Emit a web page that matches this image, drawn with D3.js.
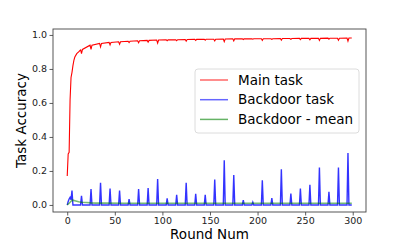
<!DOCTYPE html>
<html>
<head>
<meta charset="utf-8">
<script src="https://cdn.jsdelivr.net/npm/d3@7"></script>
<style>
  body { margin: 0; background: #fff; }
  svg { display: block; }
</style>
</head>
<body>
<svg id="chart" width="407" height="244"></svg>
<script>
// Main task accuracy, early rounds
const mainEarlyRounds = [0, 1, 2, 3, 4, 5, 6, 7, 8, 10, 12, 14];
const mainEarlyAcc = [0.17, 0.30, 0.31, 0.62, 0.75, 0.78, 0.82, 0.85, 0.87, 0.89, 0.90, 0.912];
// Main task: level around each dip, and dip depth (rounds 15, 25, ..., 295)
const dipRounds = d3.range(15, 300, 10);
const mainLevel = [0.915, 0.94, 0.95, 0.956, 0.96, 0.963, 0.966, 0.968, 0.97, 0.971,
  0.972, 0.973, 0.974, 0.975, 0.975, 0.976, 0.977, 0.977, 0.978, 0.978,
  0.978, 0.979, 0.979, 0.98, 0.98, 0.98, 0.981, 0.981, 0.982];
const mainDip = [0.025, 0.025, 0.02, 0.015, 0.015, 0.008, 0.012, 0.01, 0.018, 0.005,
  0.006, 0.01, 0.006, 0.006, 0.01, 0.015, 0.012, 0.004, 0.003, 0.01,
  0.004, 0.01, 0.005, 0.007, 0.008, 0.012, 0.006, 0.012, 0.018];
const mainLast = [299, 0.982];

// Backdoor task
const backEarlyRounds = [0, 1, 2, 3, 4];
const backEarlyAcc = [0.0, 0.02, 0.035, 0.045, 0.03];
const spikeRounds = d3.range(5, 300, 10);
const spikeHeights = [0.084, 0.053, 0.094, 0.13, 0.096, 0.084, 0.035, 0.094, 0.10, 0.153,
  0.039, 0.059, 0.13, 0.065, 0.059, 0.15, 0.263, 0.176, 0.029, 0.016,
  0.145, 0.041, 0.21, 0.067, 0.096, 0.118, 0.22, 0.078, 0.22, 0.306];

// Backdoor mean
const meanRounds = [0, 2, 4, 5, 6, 8, 10, 12, 15, 20, 25, 30, 40, 60, 100, 150, 200, 250, 299];
const meanAcc = [0.0, 0.01, 0.022, 0.027, 0.028, 0.025, 0.022, 0.019, 0.016, 0.014,
  0.012, 0.011, 0.011, 0.01, 0.01, 0.01, 0.01, 0.01, 0.01];

const yTicks = [0.0, 0.2, 0.4, 0.6, 0.8, 1.0];
const xTicks = [0, 50, 100, 150, 200, 250, 300];
const seriesNames = ["Main task", "Backdoor task", "Backdoor - mean"];
const seriesColors = ["#ff0000", "#0000ff", "#008000"];

const fontFamily = "DejaVu Sans, sans-serif";

// build point lists
const mainPts = mainEarlyRounds.map((r, i) => [r, mainEarlyAcc[i]]);
dipRounds.forEach((r, i) => {
  mainPts.push([r - 1, mainLevel[i]], [r, mainLevel[i] - mainDip[i]], [r + 1, mainLevel[i]]);
});
mainPts.push(mainLast);

const backPts = backEarlyRounds.map((r, i) => [r, backEarlyAcc[i]]);
spikeRounds.forEach((r, i) => {
  if (r > 5) backPts.push([r - 1, 0]);
  backPts.push([r, spikeHeights[i]], [r + 1, 0]);
});
backPts.push([299, 0]);

const meanPts = meanRounds.map((r, i) => [r, meanAcc[i]]);

// layout
const plotLeft = 53, plotRight = 366, plotTop = 29, plotBottom = 212;

const x = d3.scaleLinear().domain([-14.95, 313.95]).range([plotLeft, plotRight]);
const y = d3.scaleLinear().domain([-0.0415, 1.035]).range([plotBottom, plotTop]);

const svg = d3.select("#chart").style("font-family", fontFamily);

const line = d3.line().x(d => x(d[0])).y(d => y(d[1]));

const plot = svg.append("g");
plot.append("path").datum(mainPts)
  .attr("d", line).attr("fill", "none")
  .attr("stroke", seriesColors[0]).attr("stroke-width", 1.1);
plot.append("path").datum(backPts)
  .attr("d", line).attr("fill", "none")
  .attr("stroke", seriesColors[1]).attr("stroke-opacity", 0.8)
  .attr("stroke-width", 1.4);
plot.append("path").datum(meanPts)
  .attr("d", line).attr("fill", "none")
  .attr("stroke", seriesColors[2]).attr("stroke-opacity", 0.55)
  .attr("stroke-width", 1.6);

// axes
const xAxis = svg.append("g")
  .attr("transform", `translate(0,${plotBottom})`)
  .call(d3.axisBottom(x).tickValues(xTicks).tickSize(3.5).tickPadding(2).tickFormat(d3.format("d")));
const yAxis = svg.append("g")
  .attr("transform", `translate(${plotLeft},0)`)
  .call(d3.axisLeft(y).tickValues(yTicks).tickSize(3.5).tickPadding(2.5).tickFormat(d3.format(".1f")));
[xAxis, yAxis].forEach(a => {
  a.select(".domain").remove();
  a.selectAll("line").attr("stroke", "#333").attr("stroke-width", 0.8);
  a.selectAll("text").attr("fill", "#222").style("font-size", "9.5px").style("font-family", fontFamily);
});

// frame
svg.append("rect")
  .attr("x", plotLeft).attr("y", plotTop)
  .attr("width", plotRight - plotLeft).attr("height", plotBottom - plotTop)
  .attr("fill", "none").attr("stroke", "#444").attr("stroke-width", 0.9);

// axis labels
svg.append("text")
  .attr("x", (plotLeft + plotRight) / 2).attr("y", 239)
  .attr("text-anchor", "middle")
  .style("font-size", "13.5px").attr("fill", "#000")
  .text("Round Num");
svg.append("text")
  .attr("transform", `translate(26,${(plotTop + plotBottom) / 2}) rotate(-90)`)
  .attr("text-anchor", "middle")
  .style("font-size", "13.5px").attr("fill", "#000")
  .text("Task Accuracy");

// legend
const legend = svg.append("g");
legend.append("rect")
  .attr("x", 195).attr("y", 69).attr("width", 164).attr("height", 64)
  .attr("rx", 3).attr("fill", "#fff").attr("fill-opacity", 0.8)
  .attr("stroke", "#d8d8d8").attr("stroke-width", 0.9);
seriesNames.forEach((name, i) => {
  const ly = 80 + i * 19.7;
  legend.append("line")
    .attr("x1", 200).attr("x2", 228).attr("y1", ly).attr("y2", ly)
    .attr("stroke", seriesColors[i]).attr("stroke-opacity", 0.6)
    .attr("stroke-width", 1.5);
  legend.append("text")
    .attr("x", 238).attr("y", ly).attr("dy", "0.35em")
    .style("font-size", "13.5px").attr("fill", "#000")
    .text(name);
});
</script>
</body>
</html>
